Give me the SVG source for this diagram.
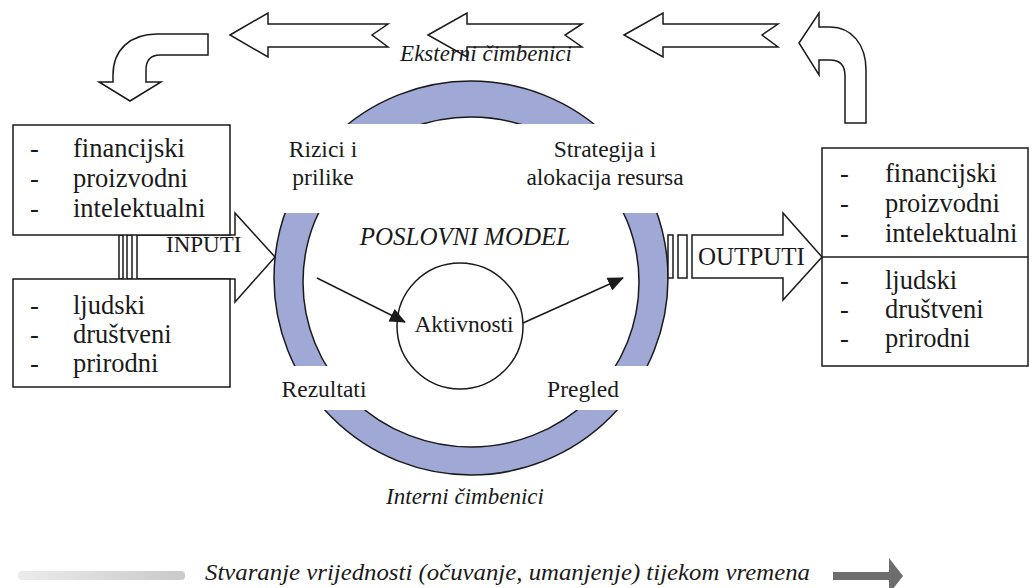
<svg xmlns="http://www.w3.org/2000/svg" width="1032" height="588" viewBox="0 0 1032 588">
<style>
text{font-family:"Liberation Serif","DejaVu Serif","Times New Roman",Times,serif;fill:#1a1a1a}
.b{font-size:26.5px}
.r{font-size:23.5px}
.i{font-style:italic}
.o{fill:#fff;stroke:#1a1a1a;stroke-width:1.5;stroke-linejoin:miter}
.ln{stroke:#1a1a1a;stroke-width:1.5;fill:none}
</style>
<defs>
<marker id="ah" markerUnits="userSpaceOnUse" markerWidth="16" markerHeight="14" refX="15" refY="7" orient="auto">
<path d="M0,0 L16,7 L0,14 Z" fill="#1a1a1a"/>
</marker>
<linearGradient id="gl" x1="0" x2="1" y1="0" y2="0">
<stop offset="0" stop-color="#ececec"/>
<stop offset="1" stop-color="#c9c9c9"/>
</linearGradient>
</defs>

<g id="top-arrows">
<path class="o" d="M230,35 L268,13 L268,24 L388,24 L372,35 L388,47 L268,47 L268,57 Z"/>
<path class="o" d="M428,35 L467,13 L467,24 L582,24 L565,35 L582,47 L467,47 L467,57 Z"/>
<path class="o" d="M624,35 L663,13 L663,24 L778,24 L762,35 L778,47 L663,47 L663,57 Z"/>
</g>
<g id="curved-left">
<path class="o" d="M208,34 L157,34 C130,34 113,50 113,75 L113,82 L99,82 L130,101 L161,82 L146,82 L146,70 C146,60 151,55 160,55 L208,55 Z"/>
</g>
<g id="curved-right">
<path class="o" d="M866,123 L845,123 L845,76 C845,66 840,60 830,60 L819,60 L819,75 L799,43 L819,13 L819,27 L830,27 C852,27 866,45 866,70 Z"/>
</g>

<g id="ring">
<path d="M274,278 A197,197 0 1,0 668,278 A197,197 0 1,0 274,278 Z M303,282 A168,165 0 1,1 639,282 A168,165 0 1,1 303,282 Z" fill="#A0A8D5" fill-rule="evenodd" stroke="#1a1a1a" stroke-width="1.5"/>
<rect x="262" y="124" width="420" height="89" fill="#fff"/>
<rect x="262" y="366" width="420" height="44" fill="#fff"/>
</g>

<text class="i" x="486" y="61" font-size="23" text-anchor="middle">Eksterni čimbenici</text>
<text class="i" x="465" y="504" font-size="23" text-anchor="middle">Interni čimbenici</text>

<g id="rizici">
<text class="r" x="323" y="157" text-anchor="middle">Rizici i</text>
<text class="r" x="323" y="185" text-anchor="middle">prilike</text>
</g>
<g id="strategija">
<text class="r" x="605" y="157" text-anchor="middle">Strategija i</text>
<text class="r" x="605" y="185" text-anchor="middle">alokacija resursa</text>
</g>
<text id="poslovni" class="i" x="465" y="245" text-anchor="middle" font-size="25">POSLOVNI MODEL</text>
<text id="rezultati" class="r" x="324" y="397" text-anchor="middle">Rezultati</text>
<text id="pregled" class="r" x="583" y="397" text-anchor="middle">Pregled</text>

<g id="aktivnosti">
<circle cx="460" cy="326" r="63" fill="#fff" stroke="#1a1a1a" stroke-width="1.5"/>
<text class="r" x="464" y="332" text-anchor="middle">Aktivnosti</text>
</g>

<g id="connectors">
<line class="ln" x1="317" y1="278" x2="405" y2="322" marker-end="url(#ah)"/>
<line class="ln" x1="523" y1="323" x2="623" y2="278" marker-end="url(#ah)"/>
</g>

<g id="inputi">
<path class="o" d="M137,235 L235,235 L235,213 L275,257 L235,302 L235,279 L137,279 Z"/>
<rect class="o" x="119" y="235" width="4" height="44"/>
<rect class="o" x="127" y="235" width="5" height="44"/>
<text x="166" y="252" font-size="23">INPUTI</text>
</g>

<g id="input-box-top">
<rect class="o" x="13" y="125" width="217" height="110"/>
<text class="b" x="30" y="157">-</text><text class="b" x="73" y="157">financijski</text>
<text class="b" x="30" y="187">-</text><text class="b" x="73" y="187">proizvodni</text>
<text class="b" x="30" y="217">-</text><text class="b" x="73" y="217">intelektualni</text>
</g>
<g id="input-box-bottom">
<rect class="o" x="13" y="279" width="217" height="108"/>
<text class="b" x="30" y="314">-</text><text class="b" x="73" y="314">ljudski</text>
<text class="b" x="30" y="343">-</text><text class="b" x="73" y="343">društveni</text>
<text class="b" x="30" y="372">-</text><text class="b" x="73" y="372">prirodni</text>
</g>

<g id="outputi">
<rect class="o" x="668" y="235" width="5" height="43"/>
<rect class="o" x="678" y="235" width="9" height="43"/>
<path class="o" d="M692,235 L783,235 L783,213 L822,257 L783,300 L783,278 L692,278 Z"/>
<text x="698" y="265" font-size="25">OUTPUTI</text>
</g>

<g id="output-box">
<rect class="o" x="822" y="148" width="206" height="218"/>
<line class="ln" x1="822" y1="257" x2="1028" y2="257"/>
<text class="b" x="840" y="182">-</text><text class="b" x="885" y="182">financijski</text>
<text class="b" x="840" y="212">-</text><text class="b" x="885" y="212">proizvodni</text>
<text class="b" x="840" y="242">-</text><text class="b" x="885" y="242">intelektualni</text>
<text class="b" x="840" y="289">-</text><text class="b" x="885" y="289">ljudski</text>
<text class="b" x="840" y="318">-</text><text class="b" x="885" y="318">društveni</text>
<text class="b" x="840" y="347">-</text><text class="b" x="885" y="347">prirodni</text>
</g>

<g id="timeline">
<rect x="18" y="571" width="167" height="9" rx="4" fill="url(#gl)"/>
<text class="i" x="205" y="580" font-size="24" textLength="605" lengthAdjust="spacingAndGlyphs">Stvaranje vrijednosti (očuvanje, umanjenje) tijekom vremena</text>
<path d="M833,572 L889,572 L889,558 L903,576 L889,594 L889,580 L833,580 Z" fill="#6d6d6d"/>
</g>
</svg>
